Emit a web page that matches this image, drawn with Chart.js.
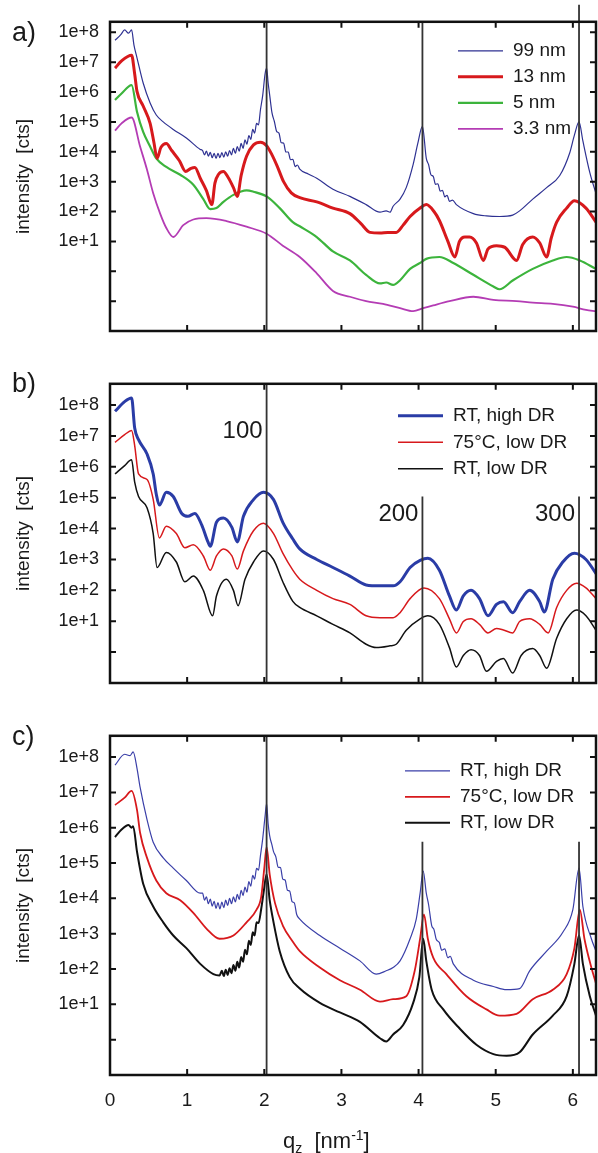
<!DOCTYPE html>
<html>
<head>
<meta charset="utf-8">
<script src="https://cdn.jsdelivr.net/npm/chart.js@4.4.0/dist/chart.umd.min.js"></script>
<style>
  html, body { margin: 0; padding: 0; background: #fff; overflow: hidden; }
  #page { position: relative; width: 598px; height: 1153px; font-family: 'Liberation Sans', Arial, sans-serif; color: #1a1a1a; }
  .panel { position: absolute; left: 0; width: 598px; }
  .tag { position: absolute; left: 12px; font-size: 27px; line-height: 1; z-index: 2; }
  #xtitle { position: absolute; left: 283px; top: 1130px; font-size: 22px; line-height: 22px; white-space: pre; z-index: 2; }
  #xtitle sub, #xtitle sup { font-size: 14px; line-height: 0; }
</style>
</head>
<body>
<div id="page">
  <div class="panel" style="top:0;height:380px"><canvas id="chartA" width="598" height="380"></canvas></div>
  <div class="panel" style="top:362px;height:370px"><canvas id="chartB" width="598" height="370"></canvas></div>
  <div class="panel" style="top:714px;height:439px"><canvas id="chartC" width="598" height="439"></canvas></div>
  <div class="tag" style="top:19px">a)</div>
  <div class="tag" style="top:370px">b)</div>
  <div class="tag" style="top:723px">c)</div>
  <div id="xtitle">q<sub>z</sub>  [nm<sup>-1</sup>]</div>
</div>
<script>
// [q_z (nm^-1), intensity (cts)]

// panel a: film thickness series
const a99 = [[0.065,5.4e7],[0.14,8.3e7],[0.19,1.2e8],[0.24,9.3e7],[0.28,1.2e8],[0.31,3.8e7],[0.35,1.4e7],[0.43,2.0e6],[0.52,4.3e5],[0.60,1.7e5],[0.69,1.0e5],[0.82,5.6e4],[0.99,2.9e4],[1.17,1.2e4],
  [1.20,1.1e4],[1.225,7.9e3],[1.25,1.05e4],[1.275,7.1e3],[1.30,9.5e3],[1.325,6.3e3],[1.35,8.9e3],[1.375,6.0e3],[1.40,8.9e3],[1.425,6.3e3],[1.45,9.3e3],[1.475,6.6e3],[1.50,1.0e4],[1.525,7.1e3],[1.55,1.1e4],[1.575,7.9e3],
  [1.60,1.3e4],[1.625,8.9e3],[1.65,1.5e4],[1.675,1.05e4],[1.70,1.9e4],[1.725,1.3e4],[1.75,2.5e4],[1.775,1.8e4],[1.80,3.5e4],[1.825,2.6e4],[1.85,5.6e4],[1.875,4.2e4],[1.90,8.9e4],[1.925,7.9e4],[1.95,2.5e5],
  [1.98,7.9e5],[2.01,4.0e6],[2.03,6.3e6],[2.05,2.0e6],[2.07,7.9e5],[2.10,2.0e5],[2.13,1.05e5],[2.16,4.8e4],[2.19,4.2e4],[2.22,2.0e4],[2.25,1.95e4],[2.28,9.8e3],[2.31,9.8e3],[2.34,5.4e3],[2.37,5.6e3],
  [2.40,3.2e3],[2.43,3.6e3],[2.46,2.6e3],[2.57,1.8e3],[2.68,1.3e3],[2.89,560],[3.11,320],[3.32,170],
  [3.50,95],[3.58,105],[3.63,95],[3.67,150],[3.76,260],[3.84,630],[3.93,3.8e3],[3.99,1.9e4],[4.05,7.1e4],[4.10,6.0e3],[4.13,3.7e3],[4.16,1.7e3],[4.19,1.5e3],[4.22,810],[4.25,850],[4.28,480],[4.31,510],
  [4.34,310],[4.37,350],[4.40,220],[4.44,240],[4.49,170],[4.71,85],[4.88,71],[5.05,68],[5.22,76],[5.31,105],
  [5.48,260],[5.66,630],[5.83,1.6e3],[5.96,9.3e3],[6.02,3.6e4],[6.08,1.0e5],[6.13,2.3e4],[6.22,2.0e3],[6.30,400]];
const a13 = [[0.065,6.3e6],[0.15,1.1e7],[0.28,1.7e7],[0.32,4.0e6],[0.35,1.05e6],[0.43,3.4e5],[0.52,8.9e4],[0.57,2.0e4],[0.61,6.0e3],[0.66,1.4e4],[0.73,1.9e4],[0.80,1.1e4],[0.90,5.0e3],[0.98,2.2e3],[1.05,2.8e3],
  [1.10,3.0e3],[1.17,1.3e3],[1.25,500],[1.32,170],[1.36,890],[1.41,1.8e3],[1.47,2.2e3],[1.53,1.4e3],[1.60,630],[1.65,320],[1.70,1.6e3],[1.77,7.1e3],[1.86,1.7e4],[1.95,2.1e4],[2.03,1.6e4],[2.10,7.9e3],
  [2.17,3.2e3],[2.25,1.0e3],[2.35,420],[2.46,290],[2.68,210],[2.89,130],[3.11,85],[3.25,40],[3.37,20],[3.50,19],[3.60,20],[3.71,20],[3.80,35],[3.89,68],[4.02,130],[4.10,170],[4.20,100],[4.27,50],[4.38,10],
  [4.47,3.0],[4.53,10],[4.60,14],[4.66,14],[4.75,8.9],[4.84,2.3],[4.90,5.6],[5.01,7.2],[5.12,6.3],[5.27,2.3],[5.35,7.9],[5.48,14],[5.57,8.9],[5.66,3.0],[5.72,13],[5.79,44],[5.92,130],[6.02,230],[6.17,130],[6.30,44]];
const a5 = [[0.065,5.4e5],[0.15,8.9e5],[0.28,1.7e6],[0.35,2.2e5],[0.43,4.6e4],[0.52,1.5e4],[0.60,6.0e3],[0.73,3.1e3],[0.91,1.7e3],[1.08,790],[1.21,260],[1.30,120],[1.38,130],[1.47,210],[1.60,360],[1.77,510],
  [1.86,460],[2.03,320],[2.20,130],[2.37,44],[2.46,32],[2.68,14],[2.89,4.6],[3.11,2.3],[3.32,0.76],[3.50,0.39],[3.58,0.42],[3.67,0.35],[3.76,0.50],[3.89,1.2],[4.02,1.9],[4.10,2.6],[4.27,3.0],[4.45,1.9],
  [4.71,0.76],[4.97,0.31],[5.05,0.25],[5.22,0.49],[5.48,1.2],[5.74,2.3],[5.92,3.0],[6.09,2.3],[6.30,1.2]];
const a33 = [[0.065,5.1e4],[0.15,8.9e4],[0.28,1.4e5],[0.39,1.5e4],[0.48,2.5e3],[0.56,410],[0.65,85],[0.73,28],[0.82,14],[0.95,35],[1.08,54],[1.25,60],[1.51,48],[1.77,31],[2.03,18],[2.24,7.2],[2.46,3.0],
  [2.68,0.85],[2.89,0.22],[3.11,0.14],[3.32,0.10],[3.54,0.081],[3.76,0.058],[3.93,0.046],[4.06,0.058],[4.19,0.072],[4.40,0.10],[4.71,0.14],[4.97,0.11],[5.27,0.10],[5.48,0.089],[5.74,0.081],[6.00,0.065],
  [6.17,0.051],[6.30,0.046]];

// panel b
const bHigh = [[0.065,6.3e7],[0.19,1.3e8],[0.28,1.7e8],[0.32,1.8e7],[0.37,7.6e6],[0.48,2.6e6],[0.56,5.9e5],[0.60,1.3e5],[0.64,5.8e4],[0.73,1.5e5],[0.82,1.1e5],[0.93,3.1e4],[1.01,2.5e4],[1.10,3.1e4],[1.19,1.3e4],
  [1.27,3.7e3],[1.30,2.7e3],[1.38,1.6e4],[1.47,2.2e4],[1.58,1.1e4],[1.65,3.7e3],[1.73,2.5e4],[1.86,8.7e4],[1.99,1.5e5],[2.12,8.7e4],[2.24,1.6e4],[2.37,4.6e3],[2.46,2.2e3],[2.68,1.0e3],[2.89,550],[3.11,290],
  [3.32,150],[3.50,140],[3.67,140],[3.76,190],[3.89,550],[4.02,930],[4.12,1.1e3],[4.27,450],[4.40,66],[4.49,23],[4.58,66],[4.68,100],[4.79,54],[4.90,15],[5.01,35],[5.10,43],[5.22,19],[5.31,43],[5.44,100],
  [5.57,43],[5.63,20],[5.74,230],[5.87,830],[6.02,1.6e3],[6.17,1.0e3],[6.30,350]];
const b75 = [[0.065,6.2e6],[0.19,1.1e7],[0.28,1.5e7],[0.32,4.9e6],[0.37,5.9e5],[0.48,3.9e5],[0.56,8.9e4],[0.64,5.0e3],[0.73,1.2e4],[0.86,6.9e3],[0.97,2.4e3],[1.08,3.0e3],[1.21,1.3e3],[1.30,450],[1.38,1.3e3],
  [1.47,2.2e3],[1.58,1.3e3],[1.65,490],[1.73,1.9e3],[1.86,8.5e3],[1.99,1.5e4],[2.12,6.9e3],[2.24,1.6e3],[2.37,450],[2.46,230],[2.68,100],[2.89,54],[3.11,35],[3.32,15],[3.50,13],[3.67,13],[3.76,19],[3.89,54],
  [4.07,120],[4.27,54],[4.40,12],[4.49,4.2],[4.58,9.8],[4.68,12],[4.79,7.9],[4.90,4.2],[5.01,5.8],[5.10,5.2],[5.22,4.2],[5.31,9.8],[5.44,12],[5.57,7.9],[5.68,4.2],[5.79,28],[5.92,100],[6.05,170],[6.17,120],[6.30,54]];
const bLow = [[0.065,5.9e5],[0.19,1.1e6],[0.28,1.7e6],[0.32,3.2e5],[0.37,1.1e5],[0.48,4.7e4],[0.56,6.9e3],[0.61,550],[0.73,1.7e3],[0.86,830],[0.97,190],[1.08,290],[1.21,100],[1.33,15],[1.38,66],[1.51,230],
  [1.60,100],[1.66,32],[1.75,230],[1.86,830],[1.99,1.9e3],[2.12,1.0e3],[2.24,190],[2.37,44],[2.46,28],[2.68,15],[2.89,7.9],[3.11,4.2],[3.32,1.8],[3.45,1.4],[3.63,1.6],[3.71,1.8],[3.84,5.1],[4.02,12],[4.12,15],
  [4.27,7.9],[4.40,1.4],[4.49,0.33],[4.58,0.78],[4.68,1.2],[4.79,0.78],[4.88,0.24],[5.01,0.50],[5.10,0.62],[5.22,0.21],[5.33,0.78],[5.48,1.3],[5.57,0.78],[5.66,0.30],[5.79,2.8],[5.92,12],[6.05,23],[6.17,15],[6.30,5.1]];

// panel c
const cHigh = [[0.065,5.9e7],[0.19,1.2e8],[0.26,1.1e8],[0.30,1.4e8],[0.35,4.8e7],[0.39,1.4e7],[0.48,1.7e6],[0.56,3.9e5],[0.69,1.4e5],[0.82,7.2e4],[0.99,3.2e4],[1.17,1.4e4],
  [1.20,1.4e4],[1.225,8.9e3],[1.25,1.1e4],[1.275,7.1e3],[1.30,9.5e3],[1.325,6.0e3],[1.35,8.3e3],[1.375,5.2e3],[1.40,7.6e3],[1.425,5.0e3],[1.45,7.9e3],[1.475,5.5e3],[1.50,8.9e3],[1.525,6.3e3],[1.55,1.0e4],
  [1.575,7.1e3],[1.60,1.1e4],[1.625,7.9e3],[1.65,1.3e4],[1.675,9.3e3],[1.70,1.7e4],[1.725,1.2e4],[1.75,2.1e4],[1.775,1.5e4],[1.80,3.0e4],[1.825,2.2e4],[1.85,4.5e4],[1.875,3.5e4],[1.90,7.1e4],[1.925,6.3e4],
  [1.95,1.6e5],[1.98,5.0e5],[2.01,2.1e6],[2.03,4.8e6],[2.05,1.3e6],[2.07,5.9e5],[2.10,3.2e5],[2.12,2.1e5],[2.15,1.5e5],[2.18,7.6e4],[2.21,7.4e4],[2.24,3.5e4],[2.27,3.3e4],[2.30,1.7e4],[2.33,1.6e4],
  [2.36,8.1e3],[2.39,7.4e3],[2.42,3.5e3],[2.46,2.6e3],[2.72,890],[2.98,390],[3.24,170],[3.45,72],[3.58,89],
  [3.67,110],[3.76,170],[3.89,720],[3.97,2.6e3],[4.02,1.4e4],[4.06,5.9e4],[4.10,1.4e4],[4.13,6.6e3],[4.17,1.7e3],[4.20,1.3e3],[4.23,680],[4.27,560],[4.30,340],[4.34,370],[4.38,210],[4.41,230],[4.45,140],
  [4.71,48],[4.97,32],[5.14,26],[5.31,28],[5.44,89],[5.66,320],[5.87,1.1e3],
  [6.00,4.8e3],[6.08,7.2e4],[6.13,5.9e3],[6.24,720],[6.30,320]];
const c75 = [[0.065,4.4e6],[0.19,7.1e6],[0.28,1.1e7],[0.35,3.2e6],[0.39,7.2e5],[0.48,1.4e5],[0.60,3.2e4],[0.73,1.4e4],[0.91,8.9e3],[1.08,3.9e3],[1.25,1.4e3],[1.42,720],[1.60,890],[1.77,2.1e3],[1.90,4.8e3],
  [1.96,1.1e4],[2.00,7.2e4],[2.03,2.8e5],[2.07,4.8e4],[2.14,7.2e3],[2.24,1.7e3],[2.37,590],[2.46,320],[2.72,110],[2.98,48],[3.24,26],[3.50,12],[3.67,14],[3.84,17],[3.95,89],[4.02,720],[4.07,3.5e3],[4.12,720],
  [4.19,210],[4.36,72],[4.62,17],[4.88,7.2],[5.05,4.8],[5.27,5.4],[5.48,14],[5.74,26],[5.92,72],[6.02,390],[6.09,4.8e3],[6.15,720],[6.24,110],[6.30,39]];
const cLow = [[0.065,5.4e5],[0.15,8.9e5],[0.24,1.2e6],[0.28,1.0e6],[0.30,1.1e6],[0.35,2.1e5],[0.43,2.6e4],[0.56,5.9e3],[0.69,2.1e3],[0.82,890],[0.99,390],[1.17,140],[1.34,72],[1.42,66],
  [1.45,89],[1.475,63],[1.50,95],[1.525,68],[1.55,105],[1.575,76],[1.60,130],[1.625,89],[1.65,160],[1.675,110],[1.70,220],[1.725,160],[1.75,350],[1.775,260],[1.80,630],[1.825,480],[1.85,1.1e3],
  [1.875,890],[1.90,2.1e3],[1.925,2.0e3],[1.96,5.0e3],[1.99,1.4e4],[2.03,4.8e4],[2.07,8.9e3],[2.12,2.1e3],[2.20,320],[2.33,59],[2.46,28],[2.72,11],[2.98,5.9],[3.24,3.2],[3.50,1.1],[3.58,0.89],[3.67,1.4],
  [3.80,2.6],[3.93,11],[4.01,59],[4.06,720],[4.10,170],[4.17,26],[4.32,7.2],[4.53,2.1],[4.75,0.72],[4.97,0.39],[5.14,0.35],[5.31,0.44],[5.48,1.4],[5.74,4.8],[5.92,17],[6.02,140],[6.08,890],[6.13,140],
  [6.22,17],[6.30,4.8]];

// Bragg peak markers (q) and where each marker line ends at the top
const braggQ = [2.03, 4.05, 6.08];
const braggTopA = [1e9, 1e9, 1e9];
const braggTopB = [1e9, 1.1e5, 1.1e5];
const braggTopC = [1e9, 4e5, 4e5];
const braggText = ['100', '200', '300'];
const braggTextI = [1.4e7, 2.9e4, 2.9e4];

const xTicks = [0, 1, 2, 3, 4, 5, 6];
const decades = [0.1, 1, 10, 100, 1e3, 1e4, 1e5, 1e6, 1e7, 1e8];

Chart.defaults.font.family = "'Liberation Sans', Arial, sans-serif";
Chart.defaults.color = '#1a1a1a';

// frame with inward tick marks on all four sides
const frameTicks = {
  id: 'frameTicks',
  afterDraw(chart) {
    const { ctx, chartArea: a, scales: { x, y } } = chart;
    ctx.save();
    ctx.strokeStyle = '#111';
    ctx.lineWidth = 2;
    ctx.beginPath();
    xTicks.forEach(v => {
      const px = x.getPixelForValue(v);
      if (px <= a.left + 1) return;
      ctx.moveTo(px, a.top); ctx.lineTo(px, a.top + 6);
      ctx.moveTo(px, a.bottom); ctx.lineTo(px, a.bottom - 6);
    });
    decades.forEach(v => {
      const py = y.getPixelForValue(v);
      if (py < a.top + 2 || py > a.bottom - 2) return;
      ctx.moveTo(a.left, py); ctx.lineTo(a.left + 6, py);
      ctx.moveTo(a.right, py); ctx.lineTo(a.right - 6, py);
    });
    ctx.stroke();
    ctx.lineWidth = 2.5;
    ctx.strokeRect(a.left, a.top, a.right - a.left, a.bottom - a.top);
    ctx.restore();
  }
};

// legend drawn inside the plot, top right
const boxLegend = {
  id: 'boxLegend',
  afterDraw(chart, args, o) {
    const { ctx, chartArea: a } = chart;
    ctx.save();
    ctx.font = "19px 'Liberation Sans', Arial, sans-serif";
    ctx.textBaseline = 'middle';
    ctx.fillStyle = '#1a1a1a';
    let row = 0;
    chart.data.datasets.forEach(ds => {
      if (!ds.label) return;
      const yy = a.top + o.top + row * o.gap;
      const x0 = a.right - o.fromRight;
      ctx.strokeStyle = ds.borderColor;
      ctx.lineWidth = ds.borderWidth;
      ctx.beginPath(); ctx.moveTo(x0, yy); ctx.lineTo(x0 + 45, yy); ctx.stroke();
      ctx.fillText(ds.label, x0 + 55, yy);
      row++;
    });
    ctx.restore();
  }
};

// reflection order labels next to the marker lines
const braggLabels = {
  id: 'braggLabels',
  afterDatasetsDraw(chart, args, o) {
    if (!o.show) return;
    const { ctx, scales: { x, y } } = chart;
    ctx.save();
    ctx.font = "24px 'Liberation Sans', Arial, sans-serif";
    ctx.fillStyle = '#1a1a1a';
    ctx.textAlign = 'right';
    ctx.textBaseline = 'middle';
    braggText.forEach((t, i) => {
      ctx.fillText(t, x.getPixelForValue(braggQ[i]) - 4, y.getPixelForValue(braggTextI[i]));
    });
    ctx.restore();
  }
};

function toPoints(pairs) {
  return pairs.map(p => ({ x: p[0], y: p[1] }));
}

function makePanel(id, cfg) {
  const datasets = cfg.series.map(s => ({
    label: s.label, data: toPoints(s.data), borderColor: s.color, borderWidth: s.width,
    pointRadius: 0, cubicInterpolationMode: 'monotone', fill: false
  }));
  braggQ.forEach((q, i) => {
    const ds = {
      label: '', data: [{ x: q, y: cfg.yMin }, { x: q, y: cfg.tops[i] }],
      borderColor: '#333', borderWidth: 1.8, pointRadius: 0
    };
    if (cfg.clipTop && i === 2) ds.clip = { left: 0, top: cfg.clipTop, right: 0, bottom: 0 };
    datasets.unshift(ds);
  });

  return new Chart(document.getElementById(id), {
    type: 'line',
    data: { datasets },
    options: {
      responsive: false,
      animation: false,
      events: [],
      layout: { padding: cfg.padding, autoPadding: false },
      scales: {
        x: {
          type: 'linear', min: 0, max: 6.3, display: cfg.showX,
          grid: { display: false, drawTicks: false },
          border: { display: false },
          afterBuildTicks: s => { s.ticks = xTicks.map(v => ({ value: v })); },
          afterFit: s => { s.height = 40; },
          ticks: { font: { size: 19 }, padding: 14, autoSkip: false, maxRotation: 0, callback: v => String(v) }
        },
        y: {
          type: 'logarithmic', min: cfg.yMin, max: cfg.yMax,
          grid: { display: false, drawTicks: false },
          border: { display: false },
          afterBuildTicks: s => { s.ticks = decades.map(v => ({ value: v })); },
          afterFit: s => { s.width = 110; },
          ticks: {
            font: { size: 18 }, padding: 11, autoSkip: false,
            callback: v => (v >= 10 ? '1e+' + Math.round(Math.log10(v)) : '')
          },
          title: { display: true, text: 'intensity  [cts]', font: { size: 19 }, padding: { top: 12, bottom: 0 } }
        }
      },
      plugins: {
        legend: { display: false },
        tooltip: { enabled: false },
        boxLegend: cfg.legend,
        braggLabels: { show: !!cfg.labels }
      }
    },
    plugins: [frameTicks, boxLegend, braggLabels]
  });
}

makePanel('chartA', {
  series: [
    { label: '99 nm', data: a99, color: '#2e3192', width: 1.2 },
    { label: '13 nm', data: a13, color: '#d7191c', width: 3 },
    { label: '5 nm', data: a5, color: '#3cb43c', width: 2.2 },
    { label: '3.3 nm', data: a33, color: '#b43cb4', width: 1.8 }
  ],
  yMin: 1e-2, yMax: 2.24e8, tops: braggTopA, clipTop: 17,
  padding: { top: 17, bottom: 9, left: 0, right: 2 }, showX: false,
  legend: { fromRight: 138, top: 29, gap: 26 }
});

makePanel('chartB', {
  series: [
    { label: 'RT, high DR', data: bHigh, color: '#2a3ca6', width: 3 },
    { label: '75°C, low DR', data: b75, color: '#d7191c', width: 1.5 },
    { label: 'RT, low DR', data: bLow, color: '#111111', width: 1.5 }
  ],
  yMin: 0.1, yMax: 4.9e8, tops: braggTopB,
  padding: { top: 9, bottom: 9, left: 0, right: 2 }, showX: false,
  legend: { fromRight: 198, top: 32, gap: 26.5 }, labels: true
});

makePanel('chartC', {
  series: [
    { label: 'RT, high DR', data: cHigh, color: '#3a3fa8', width: 1.2 },
    { label: '75°C, low DR', data: c75, color: '#d7191c', width: 1.8 },
    { label: 'RT, low DR', data: cLow, color: '#111111', width: 2 }
  ],
  yMin: 0.1, yMax: 4e8, tops: braggTopC,
  padding: { top: 9, bottom: 38, left: 0, right: 2 }, showX: true,
  legend: { fromRight: 191, top: 35, gap: 26 }
});
</script>
</body>
</html>
